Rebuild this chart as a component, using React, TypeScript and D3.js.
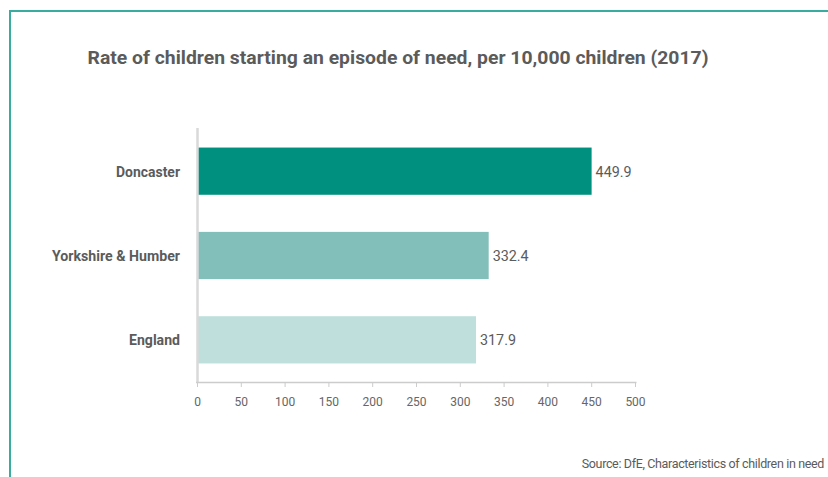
import React from "react";
import * as d3 from "d3";

const categories = ["Doncaster", "Yorkshire & Humber", "England"];
const values = [449.9, 332.4, 317.9];
const barColors = ["#00907f", "#82bfba", "#bfdfdc"];
const xTicks = [0, 50, 100, 150, 200, 250, 300, 350, 400, 450, 500];
const titleText = "Rate of children starting an episode of need, per 10,000 children (2017)";
const sourceText = "Source: DfE, Characteristics of children in need";
const labelWidths = [64, 128, 51];

export default function App() {
  const W = 828;
  const H = 477;
  const x = d3.scaleLinear().domain([0, 500]).range([197.5, 635.5]);
  const y = d3
    .scaleBand<string>()
    .domain(categories)
    .range([129, 382])
    .paddingInner(0.44)
    .paddingOuter(0.22);
  const font = "Roboto, 'Liberation Sans', Arial, sans-serif";
  const textCol = "#5b5b5b";

  return (
    <svg
      width={W}
      height={H}
      style={{ position: "absolute", left: 0, top: 0, background: "#fff" }}
      fontFamily={font}
    >
      {/* frame */}
      <line x1={9.5} y1={11} x2={W} y2={11} stroke="#3aab9f" strokeWidth={2} />
      <line x1={10} y1={10} x2={10} y2={H} stroke="#3aab9f" strokeWidth={2} />

      <text
        x={398}
        y={64}
        textAnchor="middle"
        fontSize={18}
        fontWeight="bold"
        fill={textCol}
        textLength={621}
        lengthAdjust="spacingAndGlyphs"
      >
        {titleText}
      </text>

      {/* bars */}
      {categories.map((c, i) => (
        <g key={c}>
          <rect
            x={x(0)}
            y={y(c)!}
            width={x(values[i]) - x(0)}
            height={y.bandwidth()}
            fill={barColors[i]}
          />
          <text
            x={x(values[i]) + 4}
            y={y(c)! + y.bandwidth() / 2 + 5.5}
            fontSize={15}
            fill={textCol}
            textLength={36}
            lengthAdjust="spacingAndGlyphs"
          >
            {values[i].toFixed(1)}
          </text>
          <text
            x={180}
            y={y(c)! + y.bandwidth() / 2 + 5.5}
            textAnchor="end"
            fontSize={15}
            fontWeight="bold"
            fill={textCol}
            textLength={labelWidths[i]}
            lengthAdjust="spacingAndGlyphs"
          >
            {c}
          </text>
        </g>
      ))}

      {/* y axis line */}
      <line x1={197.5} y1={128} x2={197.5} y2={383} stroke="#d9d9d9" strokeWidth={2.5} />
      {/* x axis */}
      <line x1={196} y1={382.5} x2={636.5} y2={382.5} stroke="#cccccc" strokeWidth={1.5} />
      {xTicks.map((t) => (
        <g key={t}>
          <line x1={x(t)} y1={382} x2={x(t)} y2={387} stroke="#cccccc" strokeWidth={1} />
          <text x={x(t)} y={406} textAnchor="middle" fontSize={12} fill="#666">
            {t}
          </text>
        </g>
      ))}

      <text
        x={824}
        y={468}
        textAnchor="end"
        fontSize={12.5}
        letterSpacing={-0.35}
        fill={textCol}
      >
        {sourceText}
      </text>
    </svg>
  );
}
